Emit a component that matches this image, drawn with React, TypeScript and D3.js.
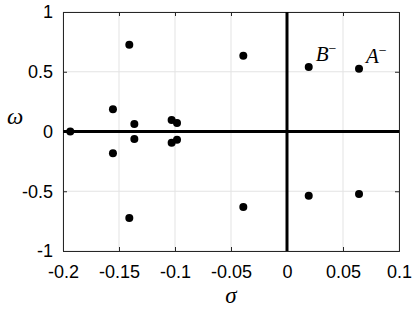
import React, { useEffect, useRef } from 'react';
import * as d3 from 'd3';

type Pole = { sigma: number; omega: number };

const sigmaValues = [-0.1935, -0.1408, -0.1408, -0.1554, -0.1554, -0.1363, -0.1363, -0.103, -0.103, -0.0982, -0.0982, -0.039, -0.039, 0.0194, 0.0194, 0.0643, 0.0643];
const omegaValues = [0, 0.726, -0.724, 0.186, -0.182, 0.063, -0.063, 0.096, -0.094, 0.071, -0.068, 0.634, -0.632, 0.54, -0.537, 0.526, -0.523];
const xTicks = [-0.2, -0.15, -0.1, -0.05, 0, 0.05, 0.1];
const yTicks = [-1, -0.5, 0, 0.5, 1];
const tickLabelsX = ['-0.2', '-0.15', '-0.1', '-0.05', '0', '0.05', '0.1'];
const tickLabelsY = ['-1', '-0.5', '0', '0.5', '1'];
const annotations = [
    { name: 'B', sigma: 0.0194, omega: 0.54 },
    { name: 'A', sigma: 0.0643, omega: 0.526 },
];

const App: React.FC = () => {
    const ref = useRef<SVGSVGElement>(null);

    useEffect(() => {
        if (!ref.current) return;
        const svg = d3.select(ref.current);
        svg.selectAll('*').remove();

        const margin = { top: 12, right: 16, bottom: 61, left: 63 };
        const width = 415 - margin.left - margin.right;
        const height = 312 - margin.top - margin.bottom;

        const data: Pole[] = sigmaValues.map((s, i) => ({ sigma: s, omega: omegaValues[i] }));

        const x = d3.scaleLinear().domain([-0.2, 0.1]).range([0, width]);
        const y = d3.scaleLinear().domain([-1, 1]).range([height, 0]);

        const g = svg.append('g').attr('transform', `translate(${margin.left},${margin.top})`);

        // grid
        g.selectAll('.gx').data(xTicks).enter().append('line')
            .attr('x1', d => x(d)).attr('x2', d => x(d))
            .attr('y1', 0).attr('y2', height)
            .attr('stroke', '#e3e3e3').attr('stroke-width', 1);
        g.selectAll('.gy').data(yTicks).enter().append('line')
            .attr('x1', 0).attr('x2', width)
            .attr('y1', d => y(d)).attr('y2', d => y(d))
            .attr('stroke', '#e3e3e3').attr('stroke-width', 1);

        // axes, ticks inward
        const font = '"Liberation Sans", Arial, sans-serif';
        const bottom = g.append('g').attr('transform', `translate(0,${height})`)
            .call(d3.axisBottom(x).tickValues(xTicks).tickSize(-4).tickPadding(14)
                .tickFormat((_, i) => tickLabelsX[i]));
        const left = g.append('g')
            .call(d3.axisLeft(y).tickValues(yTicks).tickSize(-4).tickPadding(10)
                .tickFormat((_, i) => tickLabelsY[i]));
        g.append('g')
            .call(d3.axisTop(x).tickValues(xTicks).tickSize(-4).tickFormat(() => ''));
        g.append('g').attr('transform', `translate(${width},0)`)
            .call(d3.axisRight(y).tickValues(yTicks).tickSize(-4).tickFormat(() => ''));
        g.selectAll('.domain').attr('stroke', '#262626').attr('stroke-width', 1);
        g.selectAll('.tick line').attr('stroke', '#262626');
        [bottom, left].forEach(a => a.selectAll('text')
            .attr('font-family', font).attr('font-size', 18).attr('fill', '#000'));
        bottom.selectAll('text').attr('dy', '0.71em');

        // zero lines
        g.append('line').attr('x1', 0).attr('x2', width)
            .attr('y1', y(0)).attr('y2', y(0))
            .attr('stroke', '#000').attr('stroke-width', 3);
        g.append('line').attr('x1', x(0)).attr('x2', x(0))
            .attr('y1', 0).attr('y2', height)
            .attr('stroke', '#000').attr('stroke-width', 3);

        // poles
        g.selectAll('.pole').data(data).enter().append('circle')
            .attr('cx', d => x(d.sigma)).attr('cy', d => y(d.omega))
            .attr('r', 4).attr('fill', '#000');

        // labels
        const serif = '"Liberation Serif", "DejaVu Serif", serif';
        annotations.forEach(a => {
            const t = g.append('text')
                .attr('x', x(a.sigma) + 7).attr('y', y(a.omega) - 6)
                .attr('font-family', serif).attr('font-size', 21);
            t.append('tspan').attr('font-style', 'italic').text(a.name);
            t.append('tspan').attr('dy', -8).attr('font-size', 14).text('\u2212');
        });

        svg.append('text')
            .attr('x', margin.left + width / 2).attr('y', 303)
            .attr('text-anchor', 'middle')
            .attr('font-family', serif).attr('font-style', 'italic').attr('font-size', 23)
            .text('σ');
        svg.append('text')
            .attr('x', 15).attr('y', 124)
            .attr('text-anchor', 'middle')
            .attr('font-family', serif).attr('font-style', 'italic').attr('font-size', 23)
            .text('ω');
    }, []);

    return <svg ref={ref} width={415} height={312} style={{ position: 'absolute', left: 0, top: 0 }}></svg>;
};

export default App;
